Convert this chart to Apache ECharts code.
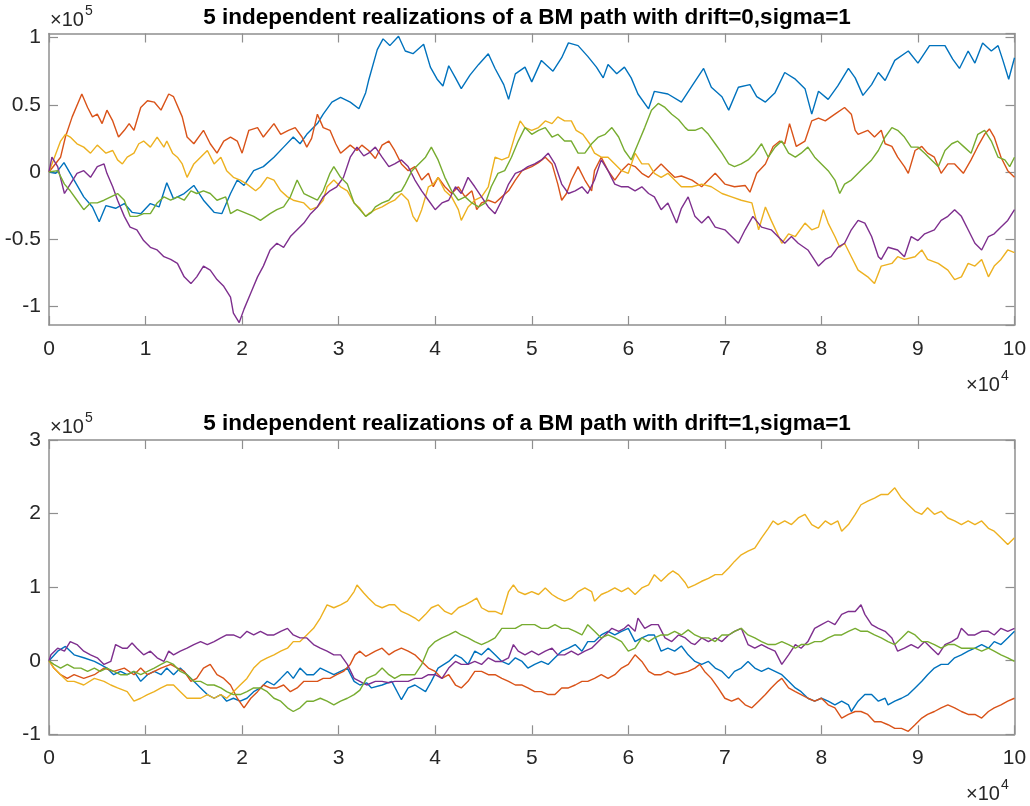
<!DOCTYPE html>
<html>
<head>
<meta charset="utf-8">
<script src="https://cdn.jsdelivr.net/npm/echarts@6/dist/echarts.min.js"></script>
<style>
html, body { margin: 0; padding: 0; background: #ffffff; }
#chart { width: 1030px; height: 806px; }
</style>
</head>
<body>
<div id="chart"></div>
<script>
// Time in units of 1e4 steps, position in units of 1e5.
const xTicks = [0, 1, 2, 3, 4, 5, 6, 7, 8, 9, 10];
const titles = [
  '5 independent realizations of a BM path with drift=0,sigma=1',
  '5 independent realizations of a BM path with drift=1,sigma=1'
];
const pathColors = ['#0072BD', '#D95319', '#EDB120', '#7E2F8E', '#77AC30'];

// drift = 0, sigma = 1
const drift0Path1 = [[0,0],[0.07,-0.01],[0.155,0.07],[0.26,-0.06],[0.36,-0.185],[0.45,-0.26],[0.52,-0.37],[0.59,-0.25],[0.69,-0.27],[0.78,-0.235],[0.86,-0.30],[0.95,-0.31],[1.05,-0.235],[1.14,-0.26],[1.22,-0.08],[1.29,-0.2],[1.40,-0.16],[1.5,-0.1],[1.6,-0.21],[1.71,-0.3],[1.79,-0.31],[1.88,-0.16],[1.95,-0.06],[2.02,-0.1],[2.12,0.01],[2.22,0.04],[2.33,0.11],[2.43,0.185],[2.53,0.26],[2.6,0.21],[2.67,0.28],[2.78,0.36],[2.84,0.43],[2.93,0.52],[3.02,0.555],[3.12,0.52],[3.21,0.47],[3.28,0.59],[3.31,0.68],[3.40,0.91],[3.46,0.99],[3.53,0.94],[3.62,1.01],[3.69,0.90],[3.77,0.88],[3.88,0.95],[3.95,0.78],[4.02,0.69],[4.08,0.64],[4.14,0.79],[4.21,0.70],[4.27,0.62],[4.36,0.72],[4.45,0.80],[4.55,0.88],[4.62,0.77],[4.71,0.65],[4.76,0.54],[4.83,0.73],[4.93,0.78],[5.0,0.67],[5.10,0.83],[5.22,0.75],[5.31,0.85],[5.38,0.96],[5.48,0.94],[5.58,0.86],[5.67,0.78],[5.74,0.70],[5.79,0.80],[5.88,0.73],[5.96,0.78],[6.03,0.70],[6.10,0.58],[6.21,0.47],[6.27,0.60],[6.41,0.58],[6.55,0.52],[6.66,0.64],[6.78,0.77],[6.86,0.63],[6.97,0.56],[7.04,0.46],[7.14,0.63],[7.26,0.65],[7.33,0.56],[7.42,0.52],[7.52,0.59],[7.62,0.74],[7.73,0.69],[7.83,0.62],[7.90,0.43],[7.97,0.60],[8.07,0.54],[8.17,0.64],[8.28,0.77],[8.35,0.70],[8.43,0.57],[8.52,0.65],[8.59,0.74],[8.66,0.68],[8.76,0.83],[8.90,0.90],[9.0,0.81],[9.12,0.94],[9.28,0.94],[9.36,0.84],[9.43,0.77],[9.52,0.90],[9.59,0.81],[9.67,0.96],[9.76,0.90],[9.83,0.94],[9.88,0.83],[9.94,0.69],[10,0.85]];
const drift0Path2 = [[0,0],[0.12,0.11],[0.17,0.26],[0.24,0.41],[0.34,0.58],[0.40,0.48],[0.45,0.41],[0.5,0.43],[0.55,0.36],[0.6,0.46],[0.66,0.38],[0.72,0.26],[0.78,0.31],[0.83,0.36],[0.88,0.31],[0.95,0.48],[1.02,0.53],[1.09,0.52],[1.16,0.46],[1.24,0.58],[1.29,0.56],[1.38,0.41],[1.43,0.26],[1.5,0.21],[1.6,0.31],[1.67,0.21],[1.74,0.14],[1.81,0.23],[1.88,0.26],[1.95,0.23],[2.0,0.14],[2.07,0.31],[2.16,0.33],[2.22,0.26],[2.33,0.36],[2.4,0.28],[2.48,0.31],[2.55,0.33],[2.62,0.26],[2.67,0.185],[2.72,0.25],[2.78,0.43],[2.84,0.33],[2.91,0.31],[2.97,0.21],[3.02,0.14],[3.12,0.20],[3.19,0.16],[3.24,0.20],[3.31,0.16],[3.38,0.10],[3.45,0.20],[3.52,0.23],[3.58,0.16],[3.65,0.06],[3.72,0.01],[3.79,0.04],[3.86,-0.06],[3.93,-0.01],[3.98,-0.11],[4.03,-0.04],[4.1,-0.11],[4.17,-0.16],[4.24,-0.11],[4.31,-0.185],[4.38,-0.14],[4.43,-0.28],[4.48,-0.23],[4.55,-0.21],[4.62,-0.23],[4.69,-0.185],[4.76,-0.14],[4.83,-0.06],[4.9,0.01],[5.0,0.04],[5.07,0.07],[5.14,0.11],[5.21,0.06],[5.27,-0.09],[5.31,-0.21],[5.36,-0.16],[5.41,-0.06],[5.48,0.04],[5.55,-0.06],[5.62,-0.14],[5.65,0.01],[5.72,0.11],[5.79,0.01],[5.86,-0.06],[5.93,0.01],[6.0,0.06],[6.07,0.04],[6.14,-0.01],[6.21,-0.04],[6.27,0.01],[6.34,0.06],[6.41,0.01],[6.48,-0.04],[6.55,-0.03],[6.66,-0.06],[6.76,-0.11],[6.9,-0.01],[7.0,-0.09],[7.1,-0.11],[7.21,-0.10],[7.26,-0.15],[7.33,-0.01],[7.42,0.06],[7.5,0.19],[7.57,0.23],[7.62,0.21],[7.67,0.36],[7.74,0.19],[7.83,0.23],[7.9,0.38],[7.97,0.40],[8.04,0.38],[8.14,0.43],[8.24,0.48],[8.31,0.43],[8.35,0.31],[8.38,0.28],[8.48,0.31],[8.55,0.26],[8.62,0.31],[8.66,0.21],[8.73,0.19],[8.79,0.11],[8.86,0.04],[8.9,-0.01],[8.97,0.16],[9.04,0.19],[9.1,0.14],[9.17,0.11],[9.24,-0.01],[9.31,0.06],[9.38,0.06],[9.47,-0.01],[9.55,0.09],[9.62,0.19],[9.69,0.28],[9.74,0.32],[9.79,0.26],[9.86,0.11],[9.93,0.01],[10,-0.04]];
const drift0Path3 = [[0,0],[0.12,0.23],[0.17,0.28],[0.22,0.26],[0.29,0.21],[0.36,0.185],[0.43,0.14],[0.5,0.2],[0.59,0.14],[0.66,0.16],[0.71,0.09],[0.76,0.06],[0.81,0.11],[0.88,0.14],[0.93,0.21],[0.98,0.23],[1.05,0.185],[1.12,0.26],[1.19,0.185],[1.22,0.23],[1.28,0.14],[1.33,0.11],[1.38,0.06],[1.43,-0.04],[1.5,0.06],[1.57,0.11],[1.64,0.16],[1.71,0.06],[1.78,0.11],[1.84,0.01],[1.91,-0.04],[1.98,-0.06],[2.05,-0.09],[2.14,-0.14],[2.19,-0.11],[2.26,-0.04],[2.33,-0.06],[2.4,-0.14],[2.47,-0.185],[2.53,-0.21],[2.64,-0.23],[2.71,-0.28],[2.78,-0.26],[2.84,-0.21],[2.88,-0.11],[2.95,-0.06],[3.02,-0.11],[3.09,-0.14],[3.16,-0.23],[3.22,-0.27],[3.28,-0.33],[3.31,-0.31],[3.38,-0.28],[3.45,-0.26],[3.52,-0.23],[3.58,-0.21],[3.65,-0.16],[3.72,-0.21],[3.77,-0.33],[3.81,-0.37],[3.86,-0.28],[3.93,-0.11],[3.98,-0.09],[4.03,-0.04],[4.1,-0.14],[4.17,-0.185],[4.24,-0.28],[4.27,-0.36],[4.34,-0.26],[4.41,-0.21],[4.48,-0.185],[4.55,-0.11],[4.62,0.11],[4.69,0.09],[4.76,0.11],[4.83,0.28],[4.88,0.38],[4.93,0.33],[5.0,0.31],[5.07,0.33],[5.14,0.38],[5.21,0.36],[5.27,0.41],[5.34,0.38],[5.41,0.38],[5.46,0.31],[5.53,0.28],[5.6,0.21],[5.65,0.14],[5.72,0.11],[5.79,0.11],[5.86,0.06],[5.93,0.01],[6.0,-0.01],[6.07,0.14],[6.14,0.06],[6.21,0.06],[6.27,-0.01],[6.34,-0.04],[6.41,-0.01],[6.48,-0.06],[6.55,-0.11],[6.66,-0.11],[6.76,-0.09],[6.86,-0.11],[6.97,-0.16],[7.07,-0.185],[7.17,-0.21],[7.28,-0.23],[7.35,-0.43],[7.42,-0.26],[7.48,-0.36],[7.59,-0.53],[7.66,-0.46],[7.73,-0.48],[7.83,-0.38],[7.9,-0.43],[7.97,-0.41],[8.02,-0.28],[8.07,-0.38],[8.14,-0.48],[8.19,-0.56],[8.24,-0.53],[8.31,-0.63],[8.38,-0.73],[8.48,-0.78],[8.55,-0.83],[8.62,-0.70],[8.73,-0.68],[8.79,-0.63],[8.86,-0.65],[8.97,-0.63],[9.04,-0.58],[9.1,-0.65],[9.21,-0.68],[9.31,-0.73],[9.38,-0.80],[9.45,-0.78],[9.52,-0.68],[9.59,-0.70],[9.66,-0.65],[9.73,-0.78],[9.79,-0.70],[9.86,-0.65],[9.93,-0.58],[10,-0.60]];
const drift0Path4 = [[0,0],[0.03,0.11],[0.09,0.04],[0.16,-0.16],[0.22,-0.09],[0.29,-0.01],[0.36,0.01],[0.43,-0.04],[0.5,0.04],[0.57,0.06],[0.6,-0.01],[0.66,-0.11],[0.71,-0.21],[0.78,-0.33],[0.84,-0.41],[0.91,-0.43],[0.98,-0.51],[1.05,-0.56],[1.12,-0.58],[1.19,-0.63],[1.26,-0.65],[1.33,-0.68],[1.40,-0.78],[1.47,-0.83],[1.53,-0.78],[1.6,-0.70],[1.67,-0.73],[1.74,-0.80],[1.81,-0.85],[1.88,-0.93],[1.91,-1.05],[1.97,-1.12],[2.02,-1.02],[2.09,-0.90],[2.16,-0.78],[2.22,-0.70],[2.29,-0.58],[2.36,-0.53],[2.43,-0.56],[2.5,-0.48],[2.57,-0.43],[2.64,-0.38],[2.71,-0.31],[2.78,-0.26],[2.84,-0.185],[2.91,-0.14],[2.98,-0.11],[3.05,-0.04],[3.12,0.11],[3.19,0.185],[3.26,0.12],[3.31,0.14],[3.38,0.185],[3.45,0.11],[3.52,0.04],[3.58,0.06],[3.65,0.09],[3.72,0.04],[3.79,-0.06],[3.86,-0.14],[3.93,-0.21],[4.0,-0.28],[4.07,-0.23],[4.14,-0.21],[4.21,-0.11],[4.27,-0.16],[4.34,-0.04],[4.41,-0.11],[4.48,-0.185],[4.55,-0.26],[4.62,-0.31],[4.69,-0.21],[4.76,-0.09],[4.83,-0.01],[4.9,0.01],[4.96,0.04],[5.03,0.06],[5.1,0.09],[5.17,0.14],[5.24,0.06],[5.31,-0.09],[5.38,-0.16],[5.45,-0.14],[5.52,-0.11],[5.58,-0.16],[5.65,-0.06],[5.72,0.09],[5.79,0.01],[5.86,-0.09],[5.93,-0.11],[6.0,-0.11],[6.07,-0.14],[6.14,-0.11],[6.21,-0.16],[6.27,-0.185],[6.34,-0.28],[6.41,-0.23],[6.5,-0.38],[6.55,-0.27],[6.62,-0.185],[6.69,-0.33],[6.76,-0.38],[6.83,-0.33],[6.9,-0.41],[7.0,-0.43],[7.07,-0.48],[7.14,-0.53],[7.21,-0.43],[7.29,-0.33],[7.38,-0.41],[7.48,-0.43],[7.55,-0.48],[7.62,-0.53],[7.69,-0.48],[7.76,-0.53],[7.86,-0.58],[7.97,-0.70],[8.04,-0.65],[8.1,-0.63],[8.17,-0.56],[8.24,-0.53],[8.31,-0.43],[8.38,-0.36],[8.45,-0.38],[8.52,-0.48],[8.59,-0.63],[8.62,-0.65],[8.69,-0.56],[8.79,-0.58],[8.86,-0.63],[8.93,-0.48],[9.0,-0.51],[9.07,-0.46],[9.17,-0.43],[9.24,-0.36],[9.31,-0.33],[9.38,-0.28],[9.45,-0.33],[9.52,-0.43],[9.59,-0.53],[9.66,-0.58],[9.73,-0.48],[9.79,-0.46],[9.86,-0.41],[9.93,-0.36],[10,-0.28]];
const drift0Path5 = [[0,0],[0.09,0.01],[0.16,-0.09],[0.22,-0.14],[0.29,-0.21],[0.36,-0.28],[0.43,-0.23],[0.5,-0.23],[0.57,-0.21],[0.64,-0.185],[0.71,-0.16],[0.78,-0.21],[0.84,-0.33],[0.91,-0.33],[0.98,-0.31],[1.05,-0.31],[1.12,-0.23],[1.19,-0.185],[1.26,-0.21],[1.33,-0.185],[1.40,-0.21],[1.47,-0.14],[1.53,-0.16],[1.6,-0.14],[1.67,-0.16],[1.74,-0.21],[1.83,-0.185],[1.88,-0.31],[1.95,-0.28],[2.02,-0.30],[2.12,-0.33],[2.19,-0.36],[2.29,-0.31],[2.36,-0.28],[2.43,-0.26],[2.5,-0.185],[2.57,-0.06],[2.64,-0.16],[2.71,-0.185],[2.78,-0.21],[2.84,-0.14],[2.91,-0.01],[2.95,0.04],[3.02,-0.04],[3.09,-0.09],[3.16,-0.23],[3.22,-0.28],[3.28,-0.33],[3.34,-0.30],[3.38,-0.26],[3.45,-0.23],[3.52,-0.21],[3.58,-0.16],[3.65,-0.14],[3.69,-0.09],[3.76,0.01],[3.83,0.06],[3.9,0.11],[3.96,0.185],[4.03,0.09],[4.1,-0.04],[4.17,-0.14],[4.24,-0.21],[4.31,-0.185],[4.38,-0.23],[4.45,-0.26],[4.52,-0.23],[4.58,-0.11],[4.65,-0.01],[4.72,0.01],[4.79,0.11],[4.86,0.23],[4.93,0.33],[5.0,0.28],[5.07,0.31],[5.14,0.33],[5.21,0.26],[5.27,0.28],[5.34,0.23],[5.41,0.23],[5.48,0.14],[5.55,0.14],[5.62,0.21],[5.69,0.26],[5.76,0.28],[5.83,0.33],[5.9,0.26],[5.96,0.16],[6.03,0.09],[6.1,0.21],[6.17,0.33],[6.24,0.46],[6.31,0.51],[6.38,0.48],[6.45,0.43],[6.52,0.39],[6.59,0.33],[6.62,0.31],[6.69,0.31],[6.76,0.33],[6.83,0.28],[6.9,0.21],[6.97,0.14],[7.04,0.06],[7.1,0.04],[7.17,0.06],[7.24,0.09],[7.31,0.14],[7.38,0.21],[7.45,0.11],[7.52,0.185],[7.59,0.23],[7.66,0.14],[7.73,0.11],[7.79,0.14],[7.86,0.185],[7.93,0.11],[8.0,0.06],[8.07,0.01],[8.14,-0.06],[8.19,-0.16],[8.24,-0.09],[8.31,-0.06],[8.38,-0.01],[8.45,0.04],[8.52,0.09],[8.59,0.16],[8.66,0.26],[8.73,0.33],[8.79,0.31],[8.86,0.26],[8.93,0.185],[9.0,0.185],[9.07,0.14],[9.14,0.09],[9.21,0.04],[9.28,0.16],[9.35,0.21],[9.41,0.23],[9.48,0.185],[9.55,0.14],[9.62,0.28],[9.69,0.31],[9.76,0.23],[9.83,0.11],[9.9,0.09],[9.95,0.04],[10,0.11]];

// drift = 1, sigma = 1
const drift1Path1 = [[0,0],[0.09,0.13],[0.17,0.195],[0.26,0.08],[0.36,0.04],[0.47,-0.01],[0.53,-0.05],[0.6,-0.10],[0.67,-0.19],[0.74,-0.145],[0.81,-0.19],[0.88,-0.145],[0.95,-0.28],[1.02,-0.19],[1.09,-0.145],[1.16,-0.19],[1.22,-0.10],[1.29,-0.19],[1.36,-0.10],[1.43,-0.19],[1.5,-0.28],[1.57,-0.37],[1.64,-0.46],[1.71,-0.51],[1.78,-0.46],[1.84,-0.55],[1.91,-0.51],[1.98,-0.55],[2.05,-0.51],[2.12,-0.42],[2.19,-0.37],[2.26,-0.28],[2.33,-0.33],[2.4,-0.24],[2.47,-0.145],[2.53,-0.24],[2.6,-0.10],[2.67,-0.19],[2.74,-0.19],[2.81,-0.10],[2.88,-0.145],[2.95,-0.19],[3.02,-0.145],[3.09,-0.10],[3.16,-0.28],[3.22,-0.33],[3.29,-0.30],[3.34,-0.37],[3.45,-0.33],[3.55,-0.28],[3.65,-0.53],[3.72,-0.37],[3.79,-0.33],[3.9,-0.42],[3.96,-0.28],[4.03,-0.10],[4.14,-0.01],[4.21,0.08],[4.27,0.04],[4.34,-0.05],[4.41,0.13],[4.48,0.08],[4.55,0.17],[4.62,0.08],[4.69,-0.01],[4.76,-0.05],[4.83,0.04],[4.9,-0.01],[4.96,-0.10],[5.03,-0.05],[5.1,-0.01],[5.17,-0.05],[5.24,0.04],[5.31,0.13],[5.38,0.17],[5.45,0.22],[5.52,0.13],[5.58,0.26],[5.65,0.26],[5.72,0.35],[5.79,0.40],[5.86,0.35],[5.93,0.40],[6.0,0.44],[6.07,0.26],[6.14,0.31],[6.21,0.35],[6.27,0.35],[6.34,0.13],[6.41,0.17],[6.48,0.13],[6.55,0.2],[6.62,0.08],[6.69,-0.01],[6.76,-0.05],[6.83,-0.01],[6.9,-0.10],[6.97,-0.145],[7.04,-0.24],[7.1,-0.145],[7.17,-0.10],[7.24,-0.01],[7.31,-0.10],[7.38,-0.145],[7.45,-0.10],[7.52,-0.145],[7.59,-0.19],[7.66,-0.28],[7.73,-0.37],[7.79,-0.42],[7.86,-0.51],[7.93,-0.55],[8.0,-0.51],[8.07,-0.55],[8.14,-0.60],[8.21,-0.55],[8.28,-0.60],[8.31,-0.69],[8.38,-0.55],[8.45,-0.46],[8.52,-0.46],[8.59,-0.55],[8.66,-0.51],[8.69,-0.60],[8.76,-0.55],[8.83,-0.51],[8.9,-0.46],[8.97,-0.37],[9.04,-0.28],[9.1,-0.19],[9.17,-0.10],[9.24,-0.05],[9.31,-0.05],[9.38,0.04],[9.45,0.08],[9.52,0.13],[9.59,0.17],[9.66,0.22],[9.73,0.17],[9.79,0.26],[9.86,0.22],[9.93,0.31],[10,0.40]];
const drift1Path2 = [[0,0],[0.05,-0.10],[0.12,-0.19],[0.19,-0.24],[0.26,-0.19],[0.36,-0.24],[0.47,-0.19],[0.57,-0.10],[0.67,-0.145],[0.78,-0.10],[0.88,-0.19],[0.95,-0.10],[1.02,-0.19],[1.09,-0.145],[1.16,-0.10],[1.26,-0.05],[1.33,-0.10],[1.40,-0.145],[1.47,-0.28],[1.53,-0.24],[1.6,-0.10],[1.67,-0.05],[1.74,-0.19],[1.81,-0.24],[1.88,-0.33],[1.95,-0.51],[2.02,-0.64],[2.09,-0.51],[2.16,-0.42],[2.22,-0.33],[2.29,-0.37],[2.36,-0.37],[2.43,-0.33],[2.5,-0.42],[2.57,-0.37],[2.64,-0.28],[2.71,-0.28],[2.78,-0.28],[2.84,-0.24],[2.91,-0.24],[2.98,-0.19],[3.05,-0.145],[3.12,-0.05],[3.17,0.08],[3.22,0.13],[3.28,0.06],[3.31,0.08],[3.38,0.13],[3.45,0.17],[3.52,0.08],[3.58,0.13],[3.65,0.17],[3.72,0.13],[3.79,0.08],[3.86,-0.01],[3.93,-0.10],[4.0,-0.145],[4.07,-0.24],[4.14,-0.19],[4.21,-0.33],[4.27,-0.37],[4.34,-0.28],[4.41,-0.145],[4.48,-0.145],[4.55,-0.19],[4.62,-0.19],[4.69,-0.24],[4.76,-0.28],[4.83,-0.33],[4.9,-0.33],[4.96,-0.37],[5.03,-0.42],[5.1,-0.42],[5.17,-0.46],[5.24,-0.46],[5.31,-0.37],[5.38,-0.37],[5.45,-0.33],[5.52,-0.28],[5.58,-0.28],[5.65,-0.24],[5.72,-0.19],[5.79,-0.24],[5.86,-0.19],[5.93,-0.10],[6.0,-0.05],[6.07,0.08],[6.14,-0.01],[6.21,-0.145],[6.27,-0.19],[6.34,-0.19],[6.41,-0.145],[6.48,-0.19],[6.55,-0.17],[6.62,-0.145],[6.69,-0.10],[6.74,-0.05],[6.79,-0.145],[6.86,-0.24],[6.93,-0.37],[7.0,-0.51],[7.07,-0.55],[7.14,-0.51],[7.21,-0.60],[7.28,-0.64],[7.35,-0.55],[7.42,-0.46],[7.48,-0.37],[7.55,-0.28],[7.59,-0.24],[7.66,-0.37],[7.73,-0.42],[7.79,-0.46],[7.86,-0.51],[7.93,-0.55],[8.0,-0.51],[8.07,-0.60],[8.14,-0.64],[8.21,-0.78],[8.28,-0.73],[8.35,-0.69],[8.41,-0.69],[8.48,-0.73],[8.55,-0.83],[8.62,-0.83],[8.69,-0.87],[8.76,-0.92],[8.83,-0.92],[8.9,-0.96],[8.93,-0.92],[8.97,-0.87],[9.04,-0.78],[9.1,-0.73],[9.17,-0.69],[9.24,-0.64],[9.31,-0.60],[9.38,-0.64],[9.45,-0.69],[9.52,-0.73],[9.59,-0.73],[9.66,-0.78],[9.73,-0.69],[9.79,-0.64],[9.86,-0.60],[9.93,-0.55],[10,-0.51]];
const drift1Path3 = [[0,0],[0.05,-0.10],[0.12,-0.19],[0.19,-0.28],[0.26,-0.28],[0.36,-0.33],[0.47,-0.24],[0.57,-0.28],[0.64,-0.33],[0.71,-0.37],[0.81,-0.42],[0.88,-0.55],[0.95,-0.51],[1.02,-0.46],[1.09,-0.42],[1.16,-0.37],[1.22,-0.33],[1.29,-0.33],[1.36,-0.42],[1.43,-0.51],[1.5,-0.51],[1.57,-0.51],[1.64,-0.46],[1.71,-0.51],[1.78,-0.46],[1.84,-0.51],[1.91,-0.42],[1.98,-0.33],[2.05,-0.24],[2.12,-0.10],[2.19,-0.01],[2.26,0.04],[2.33,0.08],[2.4,0.13],[2.47,0.17],[2.53,0.26],[2.6,0.26],[2.67,0.35],[2.74,0.44],[2.81,0.58],[2.88,0.76],[2.95,0.72],[3.02,0.76],[3.09,0.81],[3.16,0.94],[3.19,1.03],[3.26,0.92],[3.31,0.85],[3.38,0.76],[3.45,0.72],[3.52,0.76],[3.58,0.76],[3.65,0.67],[3.72,0.63],[3.79,0.58],[3.83,0.54],[3.9,0.63],[3.96,0.72],[4.03,0.76],[4.1,0.67],[4.17,0.63],[4.24,0.72],[4.31,0.76],[4.38,0.81],[4.43,0.85],[4.48,0.72],[4.55,0.67],[4.62,0.67],[4.69,0.63],[4.76,0.94],[4.81,1.03],[4.86,0.94],[4.93,0.90],[5.0,0.94],[5.07,0.90],[5.14,0.99],[5.21,0.90],[5.27,0.85],[5.34,0.81],[5.41,0.85],[5.48,0.94],[5.55,0.99],[5.62,0.94],[5.65,0.81],[5.72,0.90],[5.79,0.94],[5.86,0.99],[5.93,0.94],[6.0,0.99],[6.07,0.90],[6.14,0.99],[6.21,1.03],[6.27,1.17],[6.34,1.08],[6.41,1.17],[6.46,1.22],[6.52,1.17],[6.59,1.06],[6.62,0.99],[6.69,1.03],[6.76,1.08],[6.83,1.12],[6.9,1.17],[6.97,1.17],[7.04,1.26],[7.1,1.35],[7.17,1.44],[7.24,1.49],[7.31,1.53],[7.38,1.67],[7.45,1.80],[7.5,1.90],[7.55,1.85],[7.62,1.90],[7.69,1.85],[7.76,1.94],[7.83,1.99],[7.9,1.85],[7.97,1.80],[8.04,1.90],[8.1,1.85],[8.17,1.90],[8.21,1.76],[8.28,1.85],[8.35,1.99],[8.41,2.12],[8.48,2.17],[8.55,2.21],[8.62,2.26],[8.69,2.26],[8.76,2.35],[8.83,2.21],[8.9,2.12],[8.97,2.03],[9.04,1.99],[9.1,2.08],[9.17,1.99],[9.24,2.03],[9.31,1.94],[9.38,1.90],[9.45,1.85],[9.52,1.90],[9.59,1.85],[9.66,1.90],[9.73,1.80],[9.79,1.76],[9.86,1.67],[9.93,1.58],[10,1.67]];
const drift1Path4 = [[0,0],[0.02,0.08],[0.09,0.17],[0.16,0.13],[0.22,0.26],[0.29,0.22],[0.36,0.13],[0.43,0.08],[0.5,0.04],[0.57,-0.05],[0.64,-0.01],[0.69,0.22],[0.76,0.17],[0.81,0.17],[0.86,0.24],[0.91,0.17],[0.98,0.08],[1.05,0.13],[1.12,0.04],[1.19,-0.01],[1.24,0.13],[1.29,0.08],[1.36,0.13],[1.43,0.17],[1.5,0.22],[1.57,0.26],[1.64,0.22],[1.71,0.26],[1.78,0.31],[1.84,0.35],[1.91,0.35],[1.98,0.31],[2.05,0.40],[2.12,0.35],[2.19,0.40],[2.26,0.35],[2.33,0.35],[2.4,0.40],[2.47,0.44],[2.53,0.35],[2.6,0.31],[2.67,0.31],[2.74,0.22],[2.81,0.17],[2.88,0.13],[2.95,0.08],[3.02,0.08],[3.09,-0.05],[3.16,-0.24],[3.22,-0.28],[3.29,-0.33],[3.38,-0.28],[3.45,-0.28],[3.52,-0.30],[3.58,-0.28],[3.65,-0.28],[3.72,-0.28],[3.79,-0.24],[3.86,-0.24],[3.93,-0.19],[4.0,-0.19],[4.07,-0.24],[4.14,-0.10],[4.21,-0.01],[4.27,-0.05],[4.34,-0.05],[4.41,-0.01],[4.48,-0.05],[4.55,0.04],[4.62,-0.01],[4.69,-0.01],[4.76,0.04],[4.81,0.22],[4.86,0.13],[4.93,0.08],[5.0,0.13],[5.07,0.08],[5.14,0.13],[5.21,0.17],[5.27,0.08],[5.34,0.08],[5.41,0.13],[5.48,0.08],[5.55,0.13],[5.62,0.17],[5.69,0.26],[5.76,0.35],[5.83,0.44],[5.9,0.40],[5.96,0.44],[6.0,0.49],[6.07,0.40],[6.1,0.58],[6.17,0.44],[6.24,0.49],[6.31,0.49],[6.38,0.31],[6.45,0.26],[6.52,0.35],[6.59,0.31],[6.65,0.24],[6.69,0.22],[6.76,0.31],[6.83,0.26],[6.9,0.31],[6.97,0.26],[7.04,0.35],[7.1,0.40],[7.17,0.44],[7.24,0.22],[7.31,0.17],[7.38,0.22],[7.45,0.17],[7.52,0.13],[7.59,-0.05],[7.66,0.08],[7.73,0.22],[7.79,0.17],[7.86,0.26],[7.93,0.44],[8.0,0.49],[8.07,0.54],[8.14,0.49],[8.21,0.63],[8.28,0.67],[8.35,0.67],[8.41,0.76],[8.45,0.63],[8.52,0.49],[8.59,0.44],[8.66,0.40],[8.73,0.31],[8.79,0.13],[8.86,0.17],[8.93,0.22],[9.0,0.17],[9.07,0.26],[9.14,0.17],[9.21,0.08],[9.28,0.22],[9.35,0.26],[9.41,0.31],[9.45,0.44],[9.52,0.35],[9.59,0.35],[9.66,0.40],[9.73,0.40],[9.79,0.35],[9.86,0.44],[9.93,0.40],[10,0.44]];
const drift1Path5 = [[0,0],[0.05,-0.05],[0.12,-0.10],[0.19,-0.05],[0.26,-0.10],[0.33,-0.10],[0.4,-0.145],[0.47,-0.10],[0.53,-0.145],[0.6,-0.10],[0.67,-0.145],[0.74,-0.19],[0.81,-0.19],[0.88,-0.145],[0.95,-0.19],[1.02,-0.145],[1.09,-0.10],[1.16,-0.05],[1.22,-0.01],[1.29,-0.05],[1.36,-0.145],[1.43,-0.19],[1.5,-0.28],[1.57,-0.28],[1.64,-0.33],[1.71,-0.33],[1.78,-0.37],[1.84,-0.42],[1.91,-0.46],[1.98,-0.46],[2.05,-0.42],[2.12,-0.37],[2.19,-0.37],[2.26,-0.42],[2.33,-0.51],[2.4,-0.55],[2.47,-0.64],[2.53,-0.69],[2.6,-0.64],[2.67,-0.55],[2.74,-0.55],[2.81,-0.51],[2.88,-0.55],[2.95,-0.60],[3.02,-0.55],[3.09,-0.51],[3.16,-0.46],[3.22,-0.40],[3.29,-0.24],[3.38,-0.19],[3.45,-0.10],[3.52,-0.19],[3.58,-0.24],[3.65,-0.19],[3.72,-0.19],[3.79,-0.19],[3.86,-0.05],[3.93,0.17],[4.0,0.26],[4.07,0.31],[4.14,0.35],[4.21,0.40],[4.27,0.35],[4.34,0.31],[4.41,0.26],[4.48,0.22],[4.55,0.26],[4.62,0.31],[4.69,0.44],[4.76,0.44],[4.83,0.44],[4.9,0.49],[4.96,0.49],[5.03,0.49],[5.1,0.44],[5.17,0.44],[5.24,0.49],[5.31,0.44],[5.38,0.44],[5.45,0.40],[5.52,0.35],[5.58,0.49],[5.65,0.40],[5.72,0.31],[5.79,0.35],[5.86,0.31],[5.93,0.26],[6.0,0.13],[6.07,0.17],[6.14,0.31],[6.21,0.26],[6.27,0.31],[6.34,0.35],[6.41,0.35],[6.48,0.40],[6.55,0.35],[6.62,0.42],[6.69,0.35],[6.76,0.31],[6.83,0.31],[6.9,0.26],[6.97,0.35],[7.04,0.35],[7.1,0.40],[7.17,0.44],[7.24,0.35],[7.31,0.31],[7.38,0.26],[7.45,0.22],[7.52,0.22],[7.59,0.26],[7.66,0.22],[7.73,0.17],[7.79,0.22],[7.86,0.22],[7.93,0.26],[8.0,0.26],[8.07,0.31],[8.14,0.35],[8.21,0.35],[8.28,0.40],[8.35,0.44],[8.41,0.40],[8.48,0.40],[8.55,0.35],[8.62,0.31],[8.69,0.26],[8.76,0.22],[8.83,0.31],[8.9,0.40],[8.97,0.35],[9.04,0.26],[9.1,0.26],[9.17,0.22],[9.24,0.17],[9.31,0.22],[9.38,0.22],[9.45,0.17],[9.52,0.17],[9.59,0.17],[9.66,0.13],[9.73,0.17],[9.79,0.13],[9.86,0.08],[9.93,0.04],[10,-0.01]];

const drift0Paths = [drift0Path1, drift0Path2, drift0Path3, drift0Path4, drift0Path5];
const drift1Paths = [drift1Path1, drift1Path2, drift1Path3, drift1Path4, drift1Path5];

const FRAME = '#8f8f8f';
const TEXT = '#262626';
const FONT = '"Liberation Sans", Arial, Helvetica, sans-serif';
const LABEL_SIZE = 21;

// Top panel keeps only the half-unit labels; the panel edges are not on them.
function halfStepLabel(v) {
  if (Math.abs(v * 2 - Math.round(v * 2)) > 1e-6) return '';
  return String(Math.round(v * 10) / 10);
}

function xAxisPair(gridIndex, labelMargin) {
  const base = {
    type: 'value', gridIndex: gridIndex, min: xTicks[0], max: xTicks[xTicks.length - 1], interval: 1,
    axisLine: { show: true, onZero: false, lineStyle: { color: FRAME, width: 1.5 } },
    axisTick: { show: true, inside: true, length: 9, lineStyle: { color: FRAME, width: 1.2 } },
    splitLine: { show: false }
  };
  return [
    Object.assign({}, base, { position: 'bottom',
      axisLabel: { show: true, color: TEXT, fontFamily: FONT, fontSize: LABEL_SIZE, margin: labelMargin } }),
    Object.assign({}, base, { position: 'top', axisLabel: { show: false } })
  ];
}

function yAxisPair(gridIndex, min, max, edgeLabels, formatter) {
  const base = {
    type: 'value', gridIndex: gridIndex, min: min, max: max, splitNumber: 5,
    axisLine: { show: true, onZero: false, lineStyle: { color: FRAME, width: 1.5 } },
    axisTick: { show: true, inside: true, length: 9, lineStyle: { color: FRAME, width: 1.2 } },
    splitLine: { show: false }
  };
  return [
    Object.assign({}, base, { position: 'left',
      axisLabel: { show: true, color: TEXT, fontFamily: FONT, fontSize: LABEL_SIZE, margin: 8,
        showMinLabel: edgeLabels, showMaxLabel: edgeLabels, formatter: formatter } }),
    Object.assign({}, base, { position: 'right', axisLabel: { show: false } })
  ];
}

function pathSeries(paths, axisIndex) {
  return paths.map(function (data, i) {
    return {
      type: 'line', xAxisIndex: axisIndex, yAxisIndex: axisIndex, data: data,
      showSymbol: false, symbol: 'none', animation: false, silent: true,
      lineStyle: { color: pathColors[i], width: 1.4 }, itemStyle: { color: pathColors[i] }
    };
  });
}

// "×10" with a raised exponent, as printed beside each scaled axis.
function exponentLabel(x, y, power) {
  return [
    { type: 'text', x: x, y: y,
      style: { text: '×10', fontFamily: FONT, fontSize: 20, fill: TEXT, align: 'left', verticalAlign: 'middle' } },
    { type: 'text', x: x + 35, y: y - 9,
      style: { text: String(power), fontFamily: FONT, fontSize: 14, fill: TEXT, align: 'left', verticalAlign: 'middle' } }
  ];
}

function titleText(y, text) {
  return {
    type: 'text', x: 527, y: y,
    style: { text: text, fontFamily: FONT, fontSize: 22.5, fontWeight: 'bold', fill: '#000000',
      align: 'center', verticalAlign: 'middle' }
  };
}

const chart = echarts.init(document.getElementById('chart'), null, { renderer: 'canvas' });
const xa0 = xAxisPair(0, 14), xa1 = xAxisPair(1, 13);
const ya0 = yAxisPair(0, -1.138, 1.03, false, halfStepLabel);
const ya1 = yAxisPair(1, -1, 3, true, function (v) { return String(v); });

chart.setOption({
  backgroundColor: '#ffffff',
  animation: false,
  grid: [
    { left: 49, top: 33.5, width: 965.5, height: 291.5 },
    { left: 49, top: 440, width: 965.5, height: 294.3 }
  ],
  xAxis: [xa0[0], xa1[0], xa0[1], xa1[1]],
  yAxis: [ya0[0], ya1[0], ya0[1], ya1[1]],
  series: pathSeries(drift0Paths, 0).concat(pathSeries(drift1Paths, 1)),
  graphic: [
    titleText(17.5, titles[0]),
    titleText(423.5, titles[1])
  ].concat(exponentLabel(50, 20, 5), exponentLabel(50, 427, 5),
           exponentLabel(966, 385, 4), exponentLabel(966, 794, 4))
});
</script>
</body>
</html>
